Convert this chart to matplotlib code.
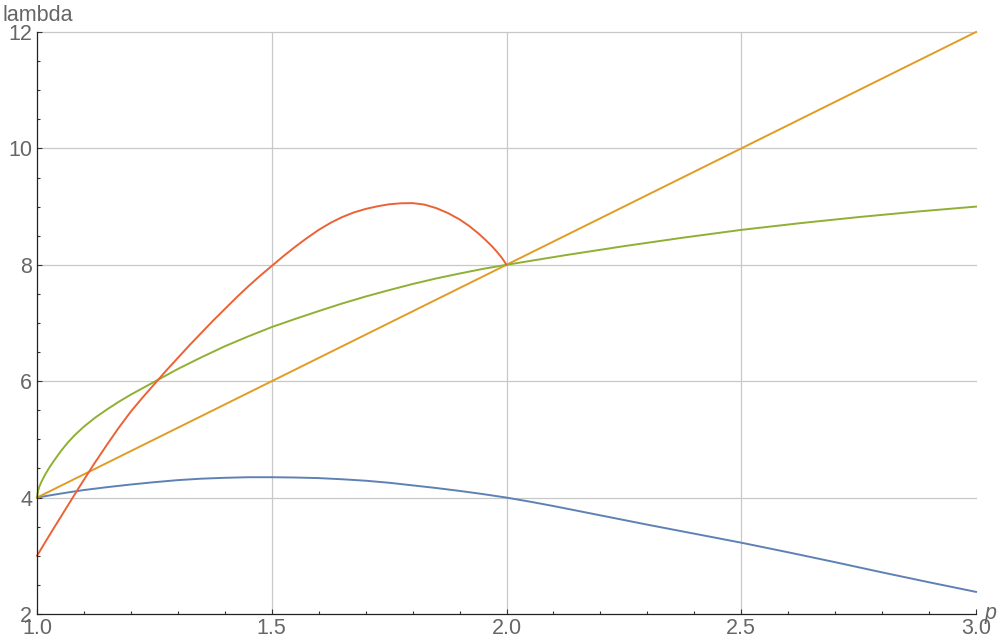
import numpy as np
import matplotlib.pyplot as plt
from matplotlib.ticker import MultipleLocator

plt.rcParams['font.family'] = ['Liberation Sans', 'DejaVu Sans']

# values
p_blue = [1.0, 1.025, 1.05, 1.075, 1.1, 1.15, 1.2, 1.25, 1.3, 1.35, 1.4, 1.45, 1.5,
          1.55, 1.6, 1.65, 1.7, 1.75, 1.8, 1.85, 1.9, 1.95, 2.0, 2.05, 2.1,
          2.2, 2.3, 2.4, 2.5, 2.6, 2.7, 2.8, 2.9, 3.0]
lam_blue = [4.0, 4.035, 4.068, 4.10, 4.13, 4.18, 4.225, 4.265, 4.30, 4.325, 4.34, 4.35, 4.35,
            4.345, 4.335, 4.315, 4.29, 4.255, 4.21, 4.165, 4.115, 4.06, 4.0, 3.93, 3.855,
            3.695, 3.535, 3.38, 3.225, 3.06, 2.89, 2.715, 2.545, 2.38]

p_orange = [1.0, 2.0, 3.0]
lam_orange = [4.0, 8.0, 12.0]

p_green = [1.0, 1.002, 1.005, 1.01, 1.017, 1.025, 1.035, 1.05, 1.065, 1.08, 1.1,
           1.125, 1.15, 1.175, 1.2, 1.25, 1.3, 1.35, 1.4, 1.45, 1.5, 1.55, 1.6,
           1.65, 1.7, 1.75, 1.8, 1.85, 1.9, 1.95, 2.0,
           2.125, 2.25, 2.375, 2.5, 2.625, 2.75, 2.875, 3.0]
lam_green = [4.0, 4.11, 4.19, 4.28, 4.39, 4.50, 4.62, 4.79, 4.94, 5.07, 5.22,
             5.38, 5.52, 5.65, 5.77, 5.99, 6.21, 6.41, 6.60, 6.77, 6.93, 7.07, 7.205,
             7.335, 7.455, 7.565, 7.67, 7.765, 7.85, 7.93, 8.0,
             8.165, 8.32, 8.465, 8.60, 8.715, 8.82, 8.915, 9.0]

p_red = [1.0, 1.03, 1.06, 1.09, 1.12, 1.15, 1.175, 1.2, 1.225, 1.25, 1.275, 1.3,
         1.325, 1.35, 1.375, 1.4, 1.425, 1.45, 1.475, 1.5, 1.525, 1.55, 1.575, 1.6,
         1.625, 1.65, 1.675, 1.7, 1.725, 1.75, 1.775, 1.8, 1.825, 1.85, 1.875, 1.9,
         1.92, 1.94, 1.955, 1.97, 1.98, 1.99, 1.996, 2.0]
lam_red = [3.0, 3.40, 3.79, 4.18, 4.56, 4.92, 5.21, 5.48, 5.72, 5.95, 6.18, 6.40,
           6.62, 6.83, 7.04, 7.24, 7.44, 7.63, 7.81, 7.98, 8.15, 8.31, 8.46, 8.60,
           8.72, 8.82, 8.90, 8.96, 9.005, 9.04, 9.057, 9.06, 9.035, 8.975, 8.89, 8.78,
           8.67, 8.54, 8.43, 8.31, 8.22, 8.12, 8.05, 8.0]

x_ticks = [1.0, 1.5, 2.0, 2.5, 3.0]
x_labels = ['1.0', '1.5', '2.0', '2.5', '3.0']
y_ticks = [2, 4, 6, 8, 10, 12]
y_labels = ['2', '4', '6', '8', '10', '12']

fig = plt.figure(figsize=(10, 6.44), dpi=100)
ax = fig.add_axes([0.037, 0.0466, 0.939, 0.9037])

# grid lines (none on the frame edges)
for gx in x_ticks[1:-1]:
    ax.axvline(gx, color='#c8c8c8', lw=0.9, zorder=0)
for gy in y_ticks[1:]:
    ax.axhline(gy, color='#c8c8c8', lw=0.9, zorder=0, clip_on=False)

ax.plot(p_blue, lam_blue, color='#5E81B5', lw=1.4, clip_on=False)
ax.plot(p_orange, lam_orange, color='#E19C24', lw=1.4, clip_on=False)
ax.plot(p_green, lam_green, color='#8FB032', lw=1.4, clip_on=False)
ax.plot(p_red, lam_red, color='#EB6235', lw=1.4, clip_on=False)

ax.set_xlim(1, 3)
ax.set_ylim(2, 12)
ax.set_xticks(x_ticks)
ax.set_xticklabels(x_labels)
ax.set_yticks(y_ticks)
ax.set_yticklabels(y_labels)
ax.xaxis.set_minor_locator(MultipleLocator(0.1))
ax.yaxis.set_minor_locator(MultipleLocator(0.5))

ax.tick_params(which='both', direction='in', colors='#333333', labelcolor='#666666',
               labelsize=15.5, width=0.8)
ax.tick_params(which='major', length=3.6)
ax.tick_params(which='minor', length=2.5)
ax.tick_params(axis='x', pad=3)
ax.tick_params(axis='y', pad=3.5)

for side in ['top', 'right']:
    ax.spines[side].set_visible(False)
for side in ['left', 'bottom']:
    ax.spines[side].set_color('#222222')
    ax.spines[side].set_linewidth(0.9)

fig.text(0.002, 1 - 20.7 / 644, 'lambda', fontsize=15.5, color='#666666',
         ha='left', va='baseline')
fig.text(985 / 1000, 1 - 619 / 644, 'p', fontsize=15.5, color='#666666',
         style='italic', ha='left', va='baseline')

fig.savefig('out.png', dpi=100)
